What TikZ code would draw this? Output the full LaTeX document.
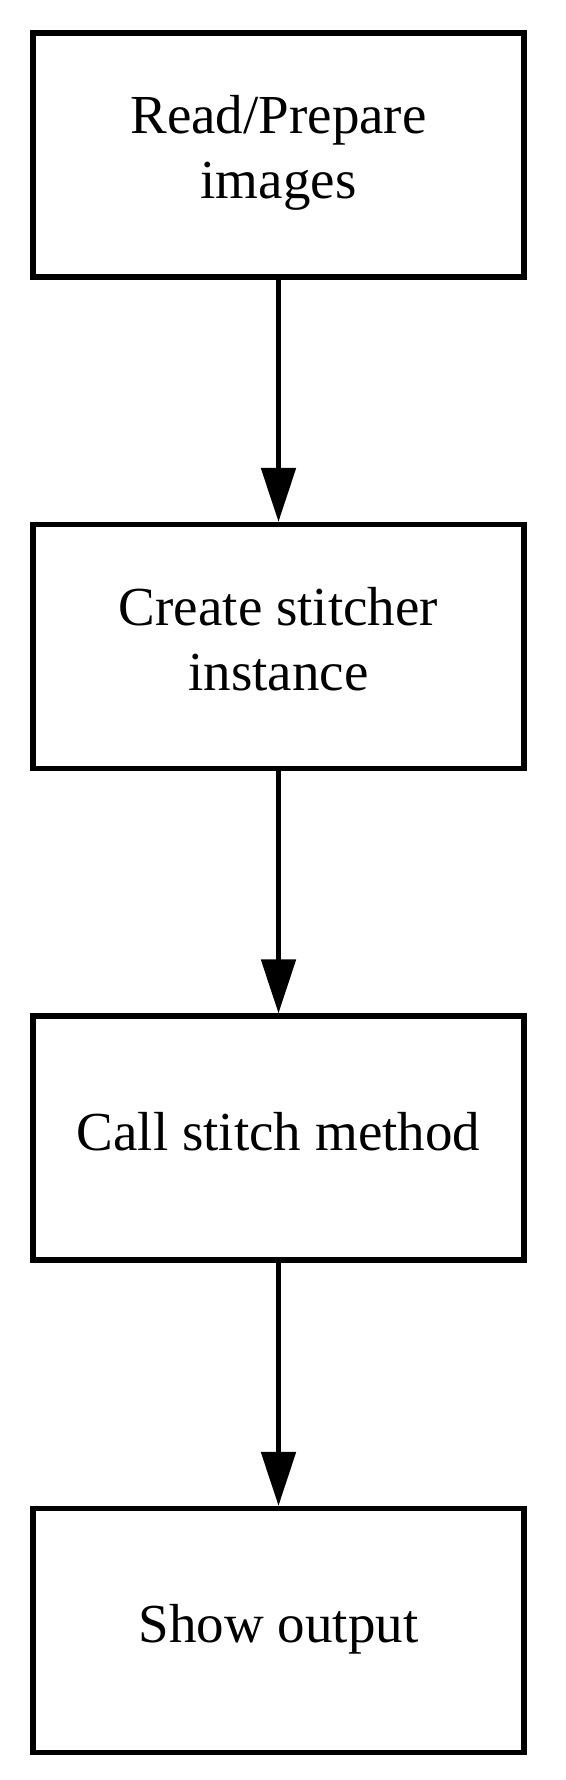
\documentclass[tikz,border=0pt]{standalone}
\usepackage{fontspec}
\setmainfont{Liberation Serif}
\usetikzlibrary{arrows.meta}
\begin{document}
\begin{tikzpicture}[x=1pt,y=1pt,
  stepbox/.style={draw=black, line width=5.2pt, minimum width=491pt, minimum height=244pt,
    inner sep=0pt, align=center, font=\fontsize{55}{65}\selectfont},
  flow/.style={line width=5.2pt, -{Triangle[length=54pt,width=34pt]}}]
\useasboundingbox (0,0) rectangle (565,-1780);
\fill[white] (0,0) rectangle (565,-1780);
\node[stepbox, text depth=16pt] (a) at (278.5,-155) {Read/Prepare\\images};
\node[stepbox, text depth=15pt] (b) at (278.5,-646.5) {Create stitcher\\instance};
\node[stepbox, text depth=13pt] (c) at (278.5,-1138) {Call stitch method};
\node[stepbox, text depth=14pt] (d) at (278.5,-1630.5) {Show output};
\draw[flow] (a) -- (b);
\draw[flow] (b) -- (c);
\draw[flow] (c) -- (d);
\end{tikzpicture}
\end{document}
